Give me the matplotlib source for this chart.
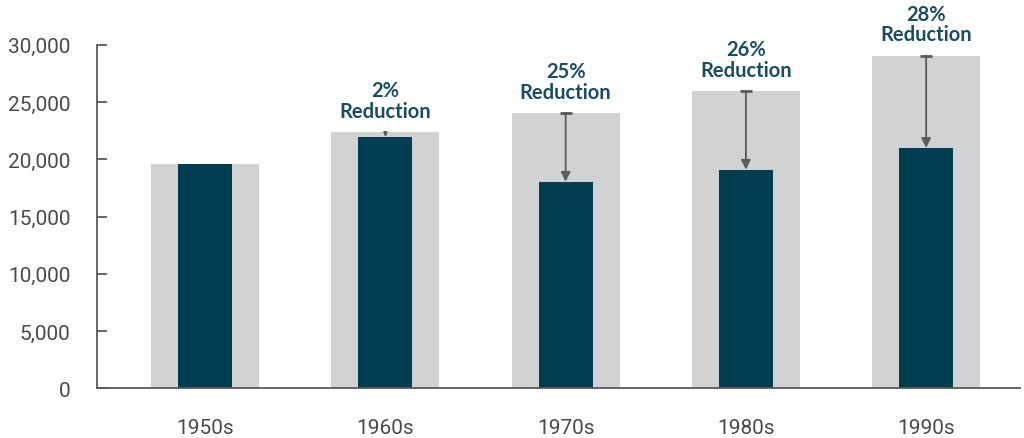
import matplotlib.pyplot as plt
import numpy as np

decades = ["1950s", "1960s", "1970s", "1980s", "1990s"]
before = [19600, 22400, 24050, 25950, 29050]
after = [19600, 21950, 18050, 19100, 21000]
labels = ["", "2%\nReduction", "25%\nReduction", "26%\nReduction", "28%\nReduction"]

gray = "#d1d2d4"
navy = "#003d51"
teal = "#1b4d61"
axis_gray = "#5a5a5a"

fig = plt.figure(figsize=(10.24, 4.39), dpi=100)
ax = fig.add_axes([0.0947, 0.1128, 0.9013, 0.7832])

x = np.arange(len(decades))
ax.bar(x, before, width=0.6, color=gray, zorder=1)
ax.bar(x, after, width=0.3, color=navy, zorder=2)

for i in range(len(decades)):
    if not labels[i]:
        continue
    gap = before[i] - after[i]
    head = 14 if gap > 2000 else 5
    ax.annotate("", xy=(x[i], after[i]), xytext=(x[i], before[i]),
                arrowprops=dict(arrowstyle="-|>", color=axis_gray, lw=1.3,
                                mutation_scale=head, shrinkA=0, shrinkB=0),
                zorder=3)
    if gap > 2000:
        ax.plot([x[i]], [before[i]], marker="_", ms=9, mew=2, color=axis_gray, zorder=3)
    ax.annotate(labels[i], xy=(x[i], before[i]), xytext=(0, 8), textcoords="offset points",
                ha="center", va="bottom", fontsize=14.5, fontweight="bold", color=teal,
                family=["Lato", "DejaVu Sans"], linespacing=1.05, annotation_clip=False)

ax.set_xlim(-0.6, 4.52)
ax.set_ylim(0, 30000)
ax.set_yticks(np.arange(0, 30001, 5000))
ax.set_yticklabels([f"{v:,}" for v in range(0, 30001, 5000)])
ax.set_xticks(x)
ax.set_xticklabels(decades)

for s in ["top", "right"]:
    ax.spines[s].set_visible(False)
for s in ["left", "bottom"]:
    ax.spines[s].set_color(axis_gray)
    ax.spines[s].set_linewidth(1.3)

ax.tick_params(axis="y", direction="in", length=7, width=1.3, color=axis_gray,
               labelcolor="#4a4a4a", labelsize=15, pad=19)
ax.tick_params(axis="x", length=0, labelcolor="#4a4a4a", labelsize=15, pad=21)
for lab in ax.get_xticklabels() + ax.get_yticklabels():
    lab.set_family(["Roboto", "DejaVu Sans"])

fig.savefig("out.png", dpi=100)
